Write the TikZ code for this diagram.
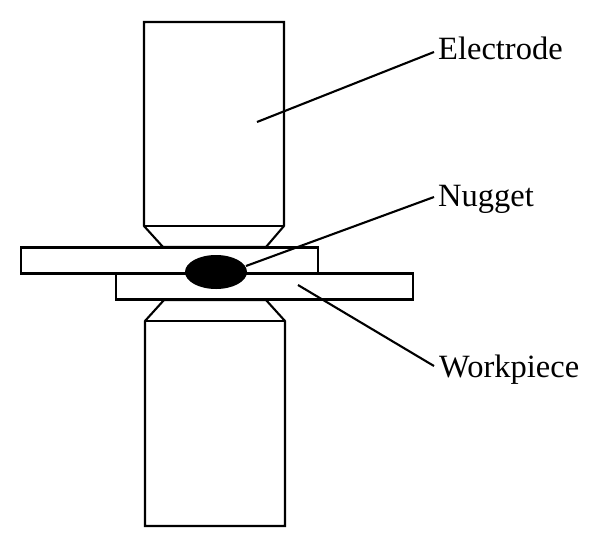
\documentclass[tikz,border=0pt]{standalone}
\usepackage{fontspec}
\usetikzlibrary{shapes.geometric}
\setmainfont{Liberation Serif}
\tikzset{part/.style={draw=black,line width=2.1pt,fill=white},lead/.style={draw=black,line width=2.1pt},lab/.style={font=\fontsize{32.5}{36}\selectfont,inner sep=0pt,anchor=base west}}
\begin{document}
\begin{tikzpicture}[x=1pt,y=-1pt]
\useasboundingbox (0,0) rectangle (600,547);
\draw[part] (144,22) -- (284,22) -- (284,226) -- (266,247) -- (163,247) -- (144,226) -- cycle;
\draw[part] (144,226) -- (284,226);
\draw[part] (145,526) -- (285,526) -- (285,321) -- (266,300) -- (164,300) -- (145,321) -- cycle;
\draw[part] (145,321) -- (285,321);
\draw[part] (21,247.5) rectangle (318,273.5);
\draw[part] (116,273.5) rectangle (413,299.5);
\node[ellipse,fill=black,minimum width=62pt,minimum height=34pt,inner sep=0pt] (nug) at (216,272) {};
\node[lab] (el) at (438,59.3) {Electrode};
\node[lab] (nu) at (438,206.3) {Nugget};
\node[lab] (wo) at (439,377.5) {Workpiece};
\coordinate (e0) at (434,52);
\coordinate (n0) at (434,197);
\coordinate (w0) at (434,366);
\coordinate (e1) at (257,122);
\coordinate (w1) at (298,285);
\coordinate (n1) at (246,266);
\draw[lead] (e0) -- (e1);
\draw[lead] (n0) -- (n1);
\draw[lead] (w0) -- (w1);
\end{tikzpicture}
\end{document}
